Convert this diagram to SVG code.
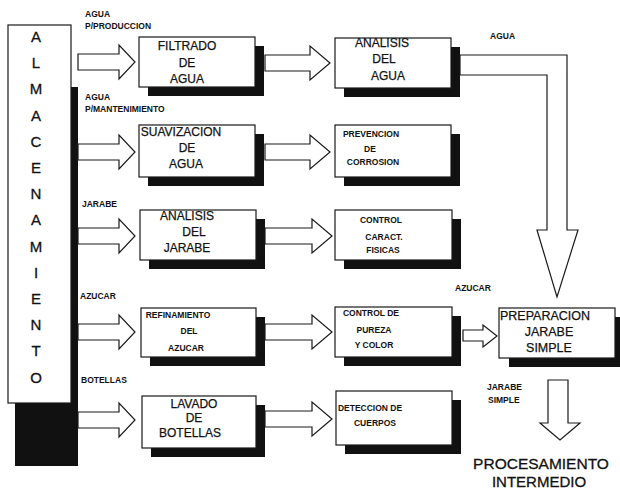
<svg xmlns="http://www.w3.org/2000/svg" width="620" height="489" viewBox="0 0 620 489">
<style>
.bx{fill:#fff;stroke:#1a1a1a;stroke-width:1.2}
.sh{fill:#111}
.ar{fill:#fff;stroke:#1a1a1a;stroke-width:1.2;stroke-linejoin:miter}
.t{font-family:"Liberation Sans",Arial,sans-serif;font-size:12px;fill:#111;stroke:#111;stroke-width:0.25;text-anchor:middle}
.b{font-family:"Liberation Sans",Arial,sans-serif;font-size:15px;fill:#111;stroke:#111;stroke-width:0.3;text-anchor:middle}
.s{font-family:"Liberation Sans",Arial,sans-serif;font-size:8.5px;font-weight:bold;fill:#111}
.sm{font-family:"Liberation Sans",Arial,sans-serif;font-size:8.5px;font-weight:bold;fill:#111;text-anchor:middle}
</style>
<rect width="620" height="489" fill="#fff"/>

<g id="almacenamiento">
<rect class="sh" x="15" y="87" width="63" height="379"/>
<rect class="bx" x="8" y="25" width="63" height="378"/>
<text class="b" x="36" y="42">A</text>
<text class="b" x="36" y="68">L</text>
<text class="b" x="36" y="94">M</text>
<text class="b" x="36" y="121">A</text>
<text class="b" x="36" y="147">C</text>
<text class="b" x="36" y="173">E</text>
<text class="b" x="36" y="199">N</text>
<text class="b" x="36" y="225">A</text>
<text class="b" x="36" y="252">M</text>
<text class="b" x="36" y="278">I</text>
<text class="b" x="36" y="304">E</text>
<text class="b" x="36" y="330">N</text>
<text class="b" x="36" y="356">T</text>
<text class="b" x="36" y="383">O</text>
</g>

<g id="labels">
<text class="s" x="85" y="17">AGUA</text>
<text class="s" x="85" y="29">P/PRODUCCION</text>
<text class="s" x="85" y="100">AGUA</text>
<text class="s" x="85" y="112">P/MANTENIMIENTO</text>
<text class="s" x="82" y="207">JARABE</text>
<text class="s" x="80" y="299">AZUCAR</text>
<text class="s" x="81" y="383">BOTELLAS</text>
<text class="s" x="490" y="39">AGUA</text>
<text class="s" x="455" y="291">AZUCAR</text>
<text class="s" x="487" y="390">JARABE</text>
<text class="s" x="488" y="403">SIMPLE</text>
</g>

<g id="filtrado">
<rect class="sh" x="148" y="46" width="116" height="50"/>
<rect class="bx" x="139" y="37" width="116" height="50"/>
<text class="t" x="187" y="50">FILTRADO</text>
<text class="t" x="187" y="67">DE</text>
<text class="t" x="187" y="83">AGUA</text>
</g>
<g id="suavizacion">
<rect class="sh" x="148" y="134" width="116" height="52"/>
<rect class="bx" x="139" y="125" width="116" height="52"/>
<text class="t" x="181" y="136">SUAVIZACION</text>
<text class="t" x="187" y="152">DE</text>
<text class="t" x="186" y="168">AGUA</text>
</g>
<g id="analisis-jarabe">
<rect class="sh" x="149" y="219" width="116" height="50"/>
<rect class="bx" x="140" y="210" width="116" height="50"/>
<text class="t" x="187" y="220">ANALISIS</text>
<text class="t" x="194" y="236">DEL</text>
<text class="t" x="187" y="252">JARABE</text>
</g>
<g id="refinamiento">
<rect class="sh" x="150" y="317" width="115" height="49"/>
<rect class="bx" x="141" y="308" width="115" height="49"/>
<text class="sm" x="178" y="318">REFINAMIENTO</text>
<text class="sm" x="189" y="334">DEL</text>
<text class="sm" x="186" y="351">AZUCAR</text>
</g>
<g id="lavado">
<rect class="sh" x="151" y="405" width="114" height="52"/>
<rect class="bx" x="142" y="396" width="114" height="52"/>
<text class="t" x="194" y="408">LAVADO</text>
<text class="t" x="194" y="422">DE</text>
<text class="t" x="190" y="437">BOTELLAS</text>
</g>

<g id="analisis-agua">
<rect class="sh" x="344" y="47" width="116" height="50"/>
<rect class="bx" x="335" y="38" width="116" height="50"/>
<text class="t" x="382" y="47">ANALISIS</text>
<text class="t" x="384" y="63">DEL</text>
<text class="t" x="388" y="80">AGUA</text>
</g>
<g id="prevencion">
<rect class="sh" x="344" y="134" width="116" height="52"/>
<rect class="bx" x="335" y="125" width="116" height="52"/>
<text class="sm" x="371" y="137">PREVENCION</text>
<text class="sm" x="370" y="152">DE</text>
<text class="sm" x="373" y="165">CORROSION</text>
</g>
<g id="control-caract">
<rect class="sh" x="344" y="219" width="117" height="50"/>
<rect class="bx" x="335" y="210" width="117" height="50"/>
<text class="sm" x="381" y="223">CONTROL</text>
<text class="sm" x="384" y="240">CARACT.</text>
<text class="sm" x="383" y="253">FISICAS</text>
</g>
<g id="control-pureza">
<rect class="sh" x="344" y="316" width="117" height="50"/>
<rect class="bx" x="335" y="307" width="117" height="50"/>
<text class="sm" x="371" y="316">CONTROL DE</text>
<text class="sm" x="374" y="333">PUREZA</text>
<text class="sm" x="374" y="348">Y COLOR</text>
</g>
<g id="deteccion">
<rect class="sh" x="345" y="400" width="116" height="54"/>
<rect class="bx" x="336" y="391" width="116" height="54"/>
<text class="sm" x="370" y="411">DETECCION DE</text>
<text class="sm" x="375" y="426">CUERPOS</text>
</g>

<g id="preparacion">
<rect class="sh" x="509" y="317" width="116" height="50"/>
<rect class="bx" x="499" y="308" width="116" height="50"/>
<text class="t" x="545" y="320" style="font-size:12.5px">PREPARACION</text>
<text class="t" x="549" y="336" style="font-size:12.5px">JARABE</text>
<text class="t" x="549" y="352" style="font-size:12.5px">SIMPLE</text>
</g>

<g id="procesamiento">
<text class="b" x="541" y="469" style="font-size:15.5px">PROCESAMIENTO</text>
<text class="b" x="539" y="487">INTERMEDIO</text>
</g>

<g id="connectors">
<path class="ar" d="M78,54 H119 V45 L135,62 L119,79 V70 H78 Z"/>
<path class="ar" d="M78,144 H119 V135 L135,152 L119,169 V160 H78 Z"/>
<path class="ar" d="M78,228 H119 V219 L135,236 L119,253 V244 H78 Z"/>
<path class="ar" d="M78,324 H119 V315 L135,332 L119,349 V340 H78 Z"/>
<path class="ar" d="M78,412 H119 V403 L135,420 L119,437 V428 H78 Z"/>
<path class="ar" d="M265,55 H310 V46 L330,63 L310,80 V71 H265 Z"/>
<path class="ar" d="M265,144 H310 V135 L330,152 L310,169 V160 H265 Z"/>
<path class="ar" d="M265,228 H312 V219 L332,236 L312,253 V244 H265 Z"/>
<path class="ar" d="M265,324 H312 V315 L332,332 L312,349 V340 H265 Z"/>
<path class="ar" d="M265,411 H312 V402 L332,419 L312,436 V427 H265 Z"/>
<path class="ar" d="M460,55 H567 V230 H578 L557,297 L537,230 H547 V75 H460 Z"/>
<path class="ar" d="M463,330 H483 V325 L497,336 L483,347 V341 H463 Z"/>
<path class="ar" d="M548,380 H568 V423 H580 L560,440 L540,423 H548 Z"/>
</g>
</svg>
